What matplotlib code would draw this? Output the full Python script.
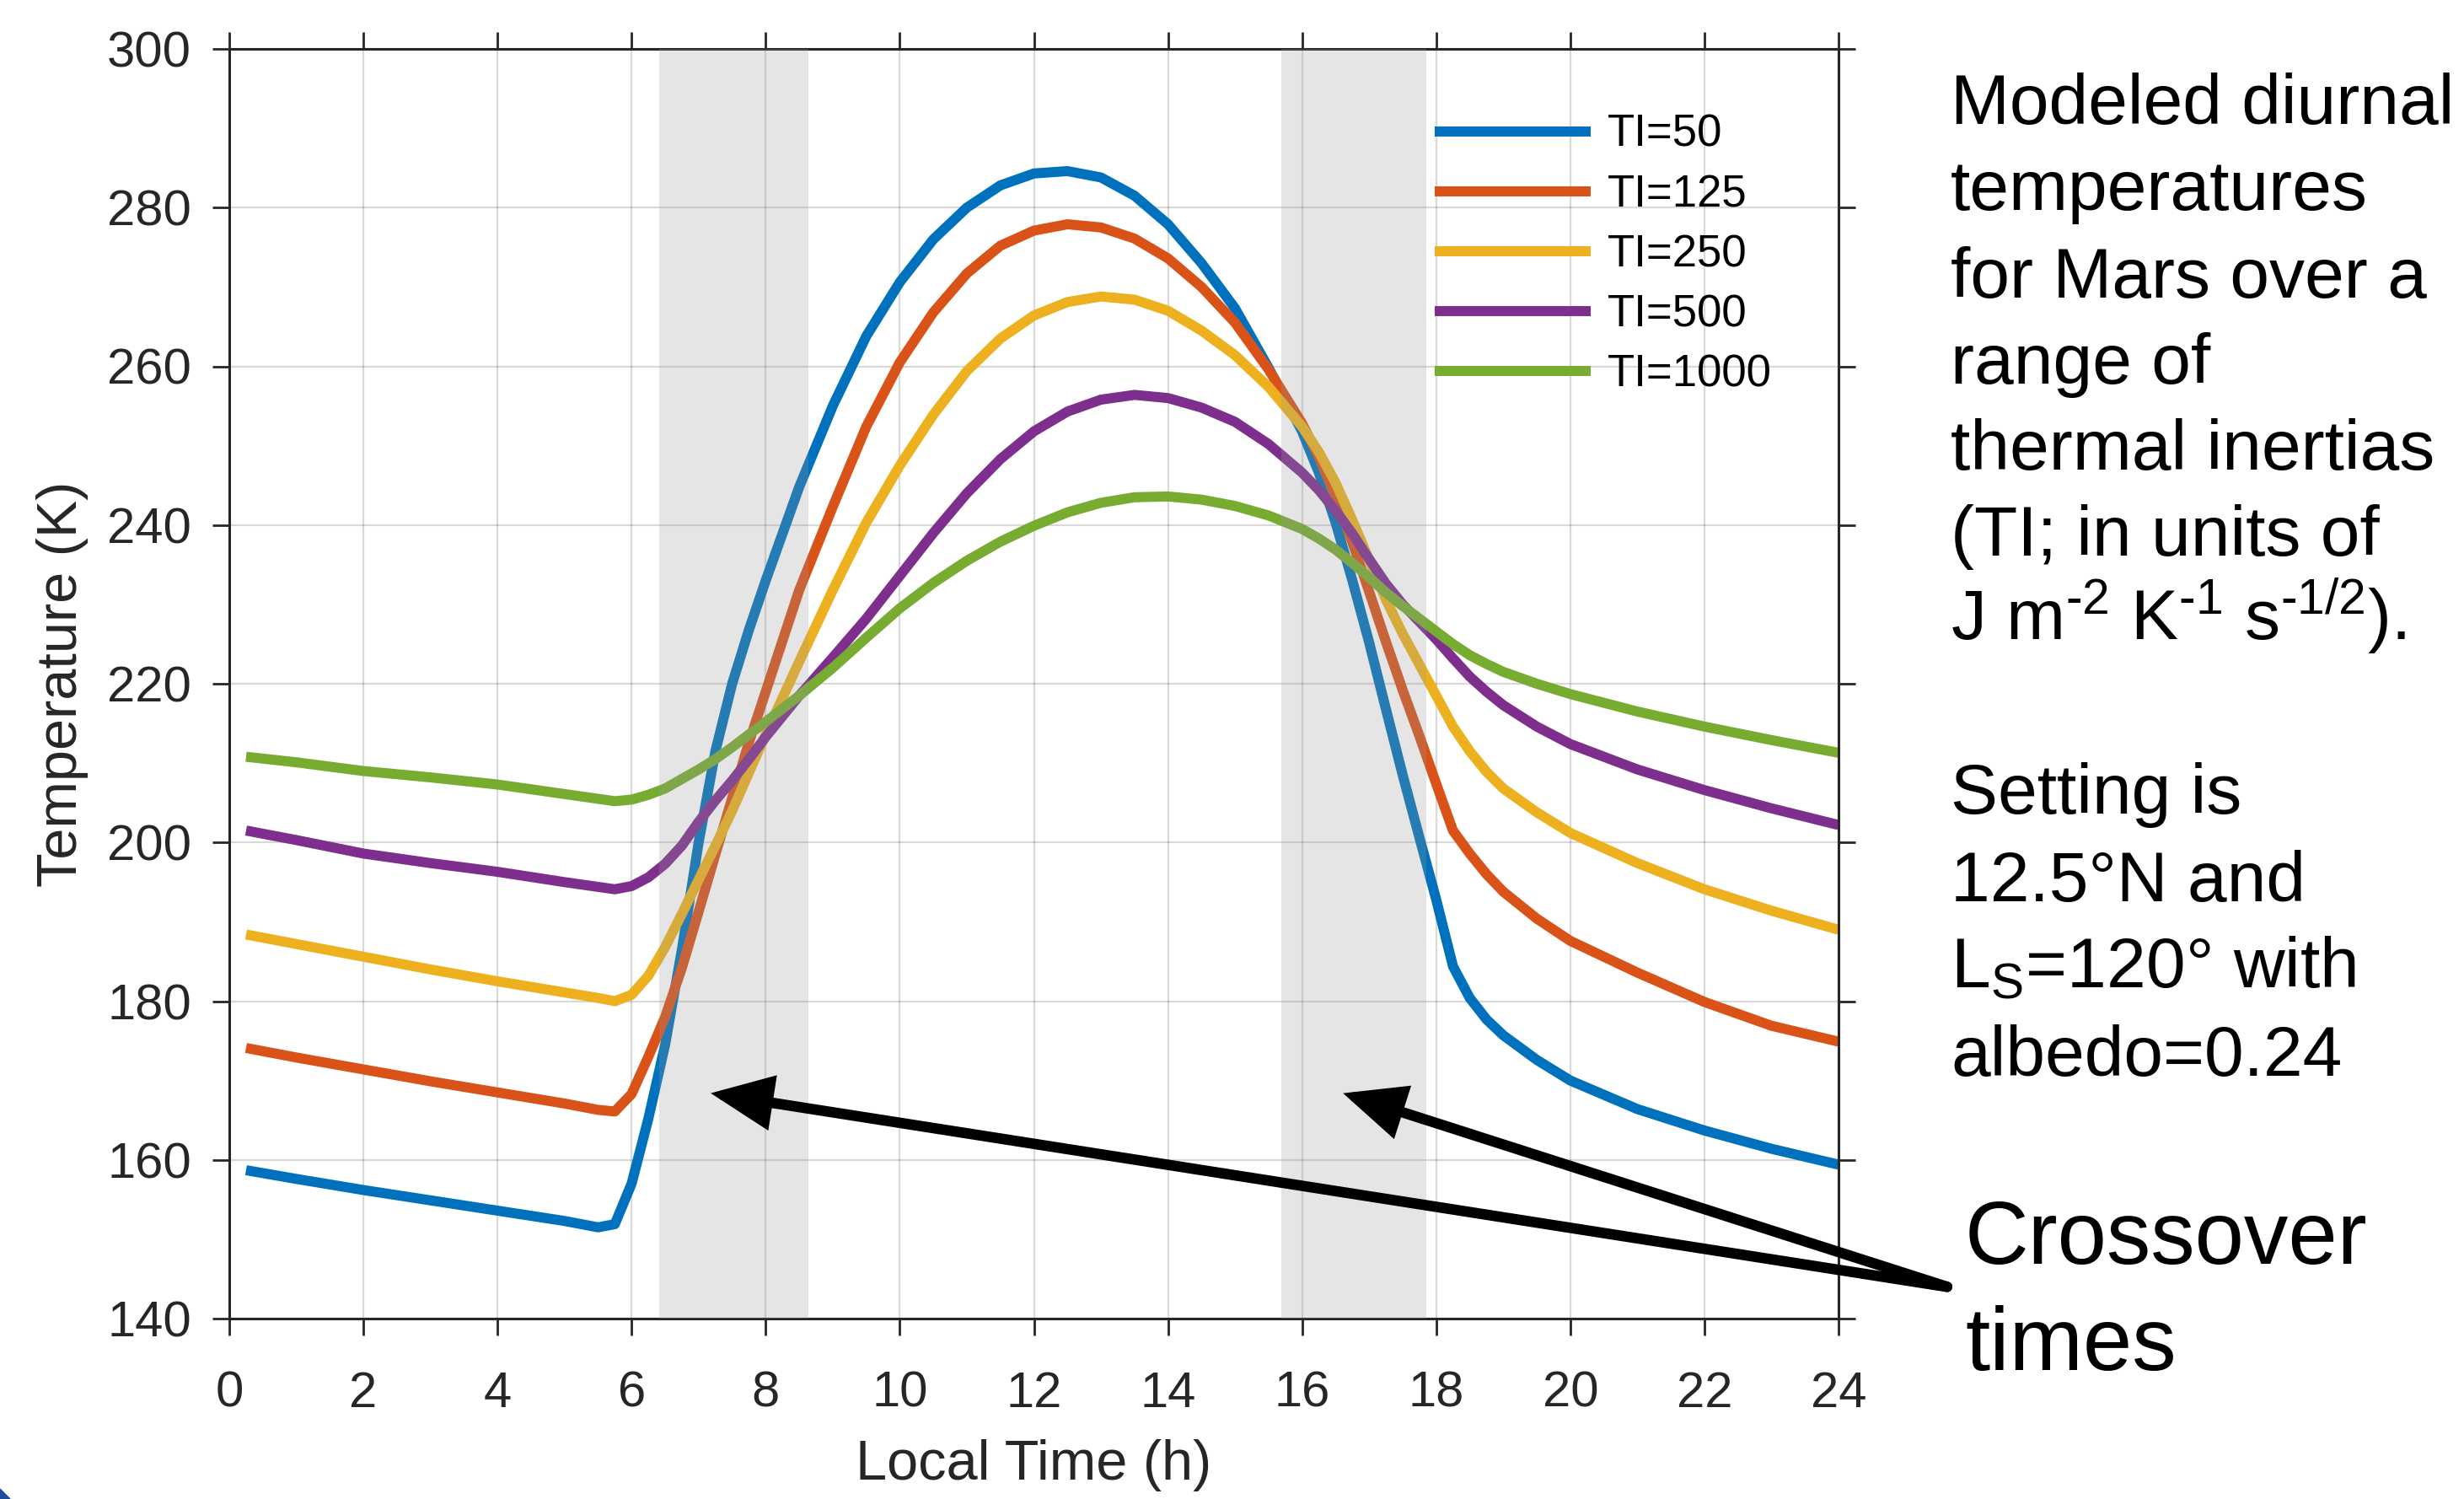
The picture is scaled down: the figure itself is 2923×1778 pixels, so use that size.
import matplotlib
matplotlib.use('Agg')
import matplotlib.pyplot as plt
from matplotlib.patches import Polygon

plt.rcParams['font.family'] = ['Liberation Sans', 'DejaVu Sans']
plt.rcParams['mathtext.fontset'] = 'custom'
plt.rcParams['mathtext.rm'] = 'Liberation Sans'
plt.rcParams['mathtext.it'] = 'Liberation Sans:italic'
plt.rcParams['mathtext.bf'] = 'Liberation Sans:bold'

# ---------------- data ----------------
local_time = [0.25, 1, 2, 3, 4, 5, 5.5, 5.75, 6, 6.25, 6.5, 6.75, 7, 7.25, 7.5, 7.75, 8,
              8.5, 9, 9.5, 10, 10.5, 11, 11.5, 12, 12.5, 13, 13.5, 14, 14.5, 15, 15.5, 16,
              16.25, 16.5, 16.75, 17, 17.25, 17.5, 17.75, 18, 18.25, 18.5, 18.75, 19,
              19.5, 20, 21, 22, 23, 24]

temp_ti50 = [158.7, 157.6, 156.2, 154.9, 153.6, 152.3, 151.5, 151.9, 157.0, 165.2, 174.5, 186.5,
             200.0, 211.5, 220.0, 226.8, 233.0, 244.8, 255.0, 263.8, 270.6, 276.0, 280.0, 282.8,
             284.3, 284.6, 283.8, 281.5, 277.9, 273.0, 267.3, 259.8, 251.8, 246.6, 240.3, 233.0,
             225.2, 216.8, 208.5, 200.6, 192.8, 184.4, 180.4, 177.7, 175.7, 172.6, 170.0, 166.4,
             163.7, 161.4, 159.4]

temp_ti125 = [174.1, 172.9, 171.4, 169.9, 168.5, 167.1, 166.3, 166.1, 168.3, 173.0, 178.0, 184.2,
              191.3, 198.5, 205.6, 212.6, 219.0, 231.8, 242.3, 252.4, 260.5, 266.8, 271.7, 275.2,
              277.1, 277.9, 277.5, 276.1, 273.6, 270.0, 265.5, 259.6, 252.8, 248.6, 243.5, 237.8,
              231.6, 225.3, 219.2, 213.4, 207.4, 201.5, 198.6, 196.0, 193.8, 190.4, 187.6, 183.6,
              179.9, 176.9, 174.9]

temp_ti250 = [188.4, 187.2, 185.6, 184.0, 182.5, 181.1, 180.4, 180.0, 180.8, 183.2, 186.8, 191.0,
              195.3, 199.6, 204.0, 208.8, 213.6, 222.8, 231.8, 240.3, 247.5, 253.9, 259.4, 263.5,
              266.4, 268.1, 268.8, 268.4, 267.0, 264.5, 261.4, 257.4, 252.4, 249.2, 245.3, 240.6,
              235.6, 230.6, 226.3, 222.4, 218.5, 214.6, 211.5, 208.9, 206.8, 203.8, 201.2, 197.4,
              194.1, 191.4, 189.0]

temp_ti500 = [201.5, 200.3, 198.6, 197.4, 196.3, 195.0, 194.4, 194.1, 194.5, 195.6, 197.3, 199.6,
              202.6, 205.3, 207.8, 210.5, 213.3, 218.5, 223.3, 228.2, 233.6, 239.0, 244.0, 248.3,
              251.8, 254.3, 255.8, 256.4, 256.0, 254.8, 253.0, 250.2, 246.6, 244.4, 241.8, 238.9,
              235.7, 232.6, 230.0, 227.8, 225.6, 223.2, 220.9, 219.0, 217.3, 214.6, 212.4, 209.2,
              206.6, 204.3, 202.2]

temp_ti1000 = [210.8, 210.1, 209.0, 208.2, 207.3, 206.1, 205.5, 205.2, 205.4, 206.0, 206.8, 208.0,
               209.2, 210.5, 212.0, 213.6, 215.2, 218.5, 222.0, 225.8, 229.5, 232.7, 235.5, 237.9,
               239.9, 241.6, 242.8, 243.5, 243.6, 243.2, 242.4, 241.2, 239.5, 238.3, 236.9, 235.2,
               233.4, 231.5, 229.8, 228.2, 226.6, 225.0, 223.6, 222.5, 221.5, 220.0, 218.7, 216.5,
               214.6, 212.9, 211.3]

series_labels = ['TI=50', 'TI=125', 'TI=250', 'TI=500', 'TI=1000']
series_colors = ['#0072BD', '#D95319', '#EDB120', '#7E2F8E', '#77AC30']
crossover_windows = [(6.41, 8.64), (15.69, 17.85)]
x_ticks = list(range(0, 25, 2))
y_ticks = list(range(140, 301, 20))

# ---------------- figure ----------------
W, H = 2923, 1778
fig = plt.figure(figsize=(W / 100, H / 100), dpi=100)
ax = fig.add_axes([272 / W, 1 - 1564 / H, (2181 - 272) / W, (1564 - 58) / H])

axcol = '#262626'
series = [temp_ti50, temp_ti125, temp_ti250, temp_ti500, temp_ti1000]
for vals, lab, col in zip(series, series_labels, series_colors):
    ax.plot(local_time, vals, color=col, lw=8.6, label=lab, zorder=2,
            solid_joinstyle='round', solid_capstyle='butt')

for x0, x1 in crossover_windows:
    ax.axvspan(x0, x1, color=(0.6, 0.6, 0.6), alpha=0.25, lw=0, zorder=3)

ax.set_xlim(0, 24)
ax.set_ylim(140, 300)
ax.set_xticks(x_ticks)
ax.set_yticks(y_ticks)
ax.grid(True, color='black', alpha=0.15, lw=1.6, zorder=1)
ax.set_axisbelow(True)

for s in ax.spines.values():
    s.set_color(axcol)
    s.set_linewidth(2.2)
ax.tick_params(direction='out', length=14.4, width=2.0, colors=axcol, labelsize=43,
               top=True, right=True)
ax.tick_params(axis='x', pad=30)
ax.tick_params(axis='y', pad=18)

ax.set_xlabel('Local Time (h)', fontsize=48, color=axcol, labelpad=19)
ax.set_ylabel('Temperature (K)', fontsize=48, color=axcol, labelpad=16)

leg = ax.legend(loc='upper left', bbox_to_anchor=(1702 / W, 1 - 135 / H),
                bbox_transform=fig.transFigure, frameon=False, fontsize=38,
                handlelength=3.5, handletextpad=0.38, labelspacing=0.40,
                borderpad=0, borderaxespad=0)

# arrows to crossover windows
arrow_tail = (25.62, 144.0)
arrow_heads = [(7.18, 168.4), (16.61, 168.4)]
for head in arrow_heads:
    ax.annotate('', xy=head, xytext=arrow_tail, xycoords='data', textcoords='data',
                annotation_clip=False,
                arrowprops=dict(arrowstyle='-|>,head_length=38,head_width=17',
                                mutation_scale=1, lw=9, color='black',
                                shrinkA=0, shrinkB=0, joinstyle='miter'))

# right-hand text
desc_lines = ['Modeled diurnal', 'temperatures', 'for Mars over a', 'range of',
              'thermal inertias', '(TI; in units of',
              r'J m$^{\text{-2}}$ K$^{\text{-1}}$ s$^{\text{-1/2}}$).']
desc_base = [147, 249, 353, 455, 557, 659, 760]
for txt, yb in zip(desc_lines, desc_base):
    fig.text(2314 / W, 1 - yb / H, txt, fontsize=60.5, color='black',
             ha='left', va='baseline')

set_lines = ['Setting is', '12.5°N and', r'L$_{\mathrm{S}}$=120° with', 'albedo=0.24']
set_base = [965, 1069, 1171, 1276]
for txt, yb in zip(set_lines, set_base):
    fig.text(2314 / W, 1 - yb / H, txt, fontsize=60.5, color='black',
             ha='left', va='baseline')

for txt, yb in zip(['Crossover', 'times'], [1499, 1625]):
    fig.text(2331 / W, 1 - yb / H, txt, fontsize=75.5, color='black',
             ha='left', va='baseline')

# small blue corner mark
fig.patches.append(Polygon([[0, 0], [12 / W, 0], [0, 12 / H]], closed=True,
                           transform=fig.transFigure, color='#1f4e9c'))

fig.savefig('out.png', dpi=100)
